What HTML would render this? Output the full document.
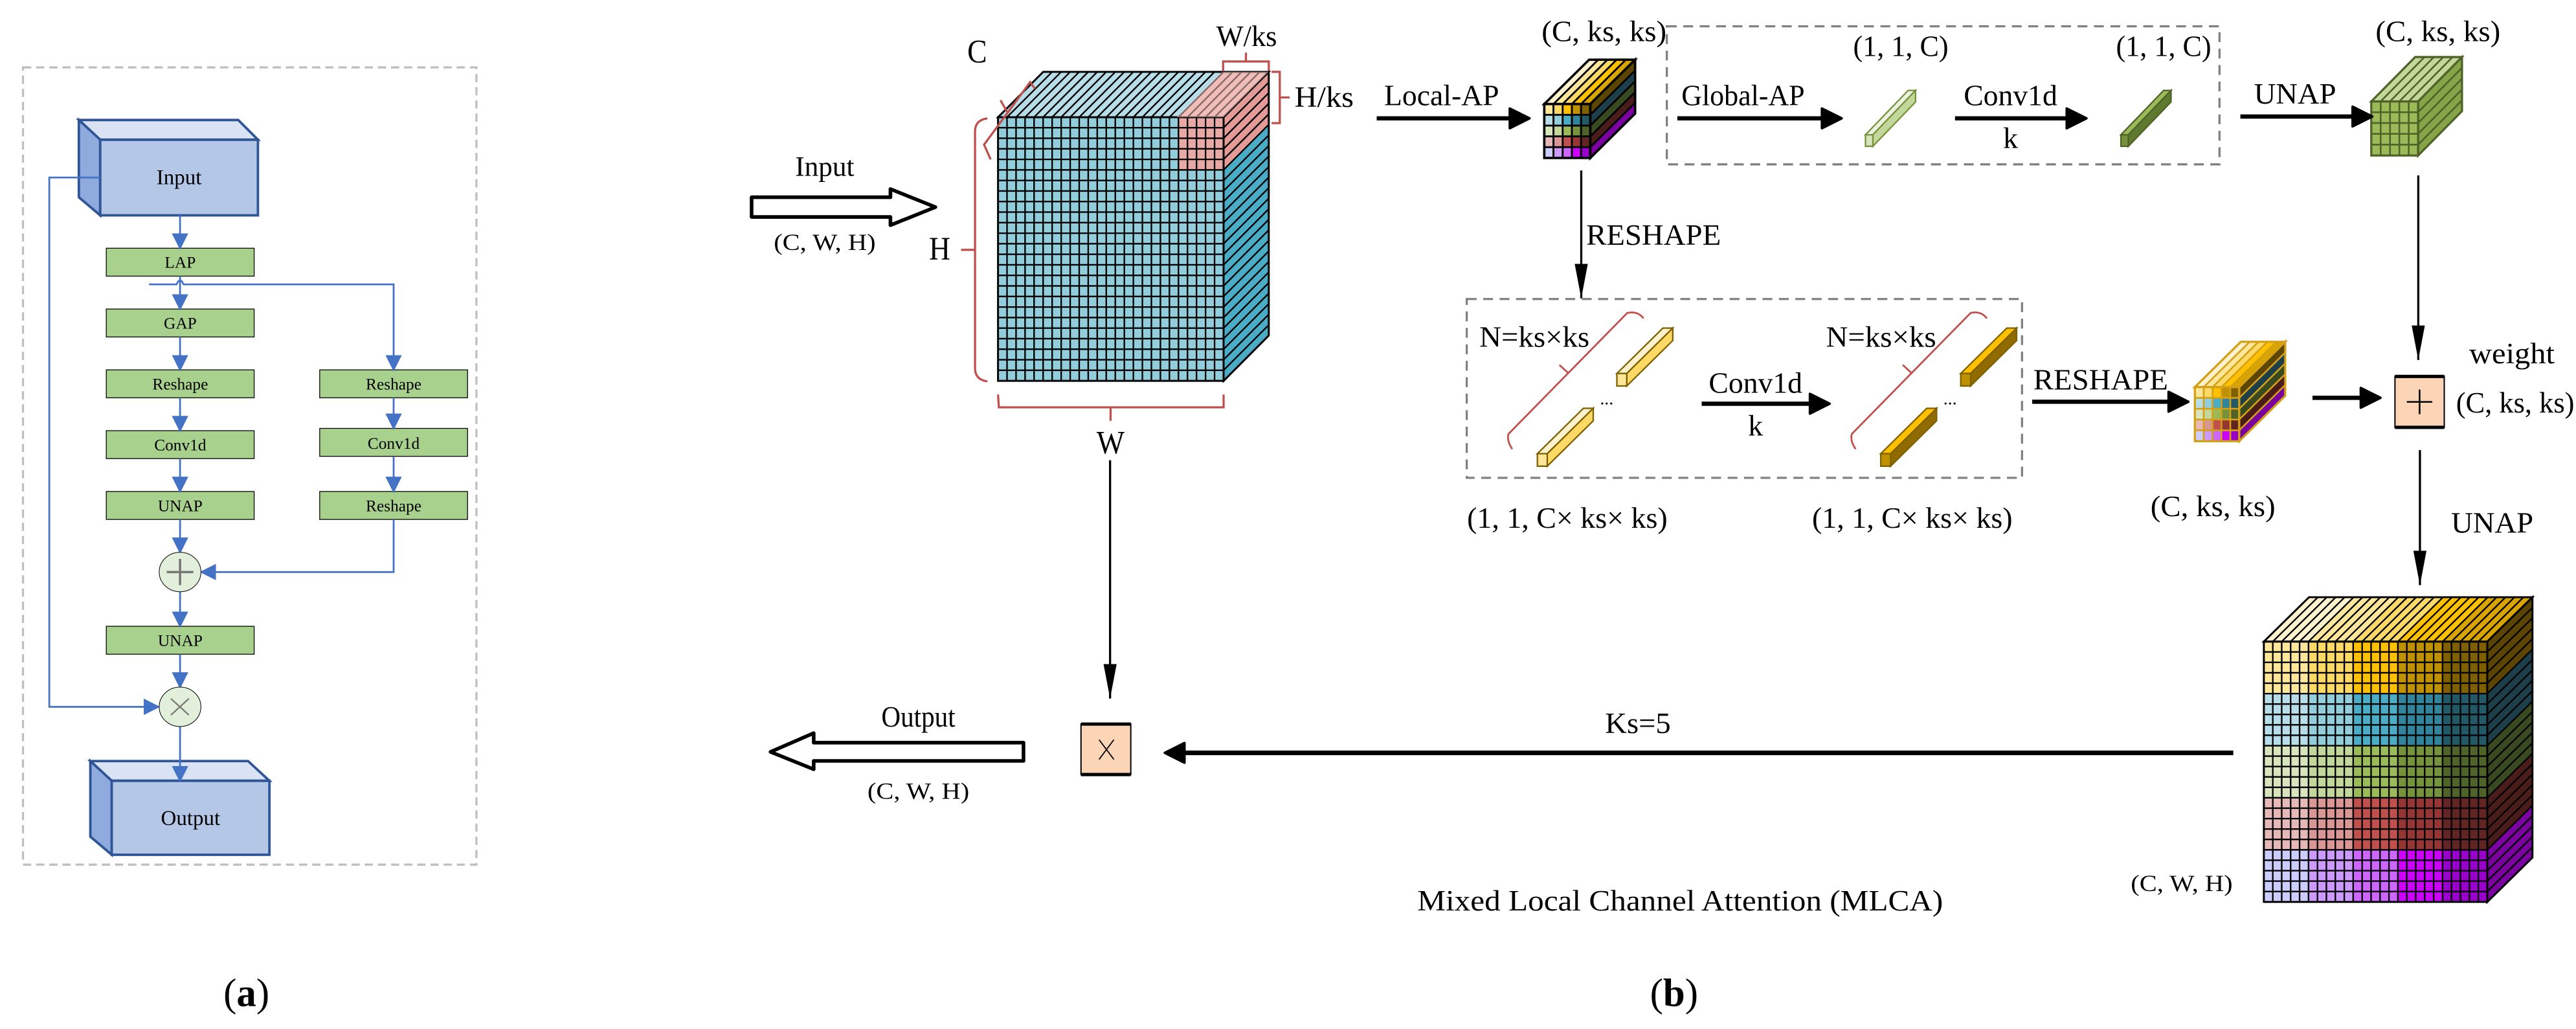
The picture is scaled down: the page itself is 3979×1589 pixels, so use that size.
<!DOCTYPE html>
<html><head><meta charset="utf-8">
<style>
html,body{margin:0;padding:0;background:#fff;}
svg{display:block;}
text{font-family:"Liberation Serif",serif;fill:#000;}
</style></head>
<body>
<svg id="s" xmlns="http://www.w3.org/2000/svg" width="3979" height="1589" viewBox="0 0 1568 626" preserveAspectRatio="none">
<defs>
<marker id="ab" markerWidth="10" markerHeight="10" refX="9" refY="5" orient="auto" markerUnits="userSpaceOnUse"><path d="M0,0 L10,5 L0,10 Z" fill="#4472c4"/></marker>
<marker id="ak" markerWidth="14" markerHeight="14" refX="12" refY="7" orient="auto" markerUnits="userSpaceOnUse"><path d="M1,1 L13,7 L1,13 Z" fill="#000" stroke="#000" stroke-linejoin="round" stroke-width="1.5"/></marker>
<marker id="av" markerWidth="22" markerHeight="8" refX="21" refY="4" orient="auto" markerUnits="userSpaceOnUse"><path d="M0,0 L21,4 L0,8 Z" fill="#000"/></marker>
</defs>

<!-- ============ Panel (a) ============ -->
<rect x="14" y="41" width="276" height="485" fill="none" stroke="#bfbfbf" stroke-width="1.3" stroke-dasharray="5,3"/>
<polygon points="48,73 145,73 157,85 61,85" fill="#dae3f3" stroke="#2f5597" stroke-width="1.5"/>
<polygon points="48,73 61,85 61,131 48,120" fill="#8faadc" stroke="#2f5597" stroke-width="1.5"/>
<rect x="61" y="85" width="96" height="46" fill="#b4c7e7" stroke="#2f5597" stroke-width="1.5"/>
<text x="109" y="112" font-size="13" text-anchor="middle">Input</text>
<polygon points="55,463 151,463 164,475 68,475" fill="#dae3f3" stroke="#2f5597" stroke-width="1.5"/>
<polygon points="55,463 68,475 68,520 55,509" fill="#8faadc" stroke="#2f5597" stroke-width="1.5"/>
<rect x="68" y="475" width="96" height="45" fill="#b4c7e7" stroke="#2f5597" stroke-width="1.5"/>
<text x="116" y="502" font-size="13" text-anchor="middle">Output</text>
<g fill="#a9d18e" stroke="#000" stroke-width="0.5">
<rect x="64.7" y="151" width="90" height="17"/>
<rect x="64.7" y="188" width="90" height="17"/>
<rect x="64.7" y="225" width="90" height="17"/>
<rect x="64.7" y="262" width="90" height="17"/>
<rect x="64.7" y="299" width="90" height="17"/>
<rect x="64.7" y="381" width="90" height="17"/>
<rect x="194.6" y="225" width="90" height="17"/>
<rect x="194.6" y="260.6" width="90" height="17"/>
<rect x="194.6" y="299" width="90" height="17"/>
</g>
<g font-size="10" text-anchor="middle">
<text x="109.7" y="163">LAP</text>
<text x="109.7" y="200">GAP</text>
<text x="109.7" y="237">Reshape</text>
<text x="109.7" y="274">Conv1d</text>
<text x="109.7" y="311">UNAP</text>
<text x="109.7" y="393">UNAP</text>
<text x="239.6" y="237">Reshape</text>
<text x="239.6" y="273">Conv1d</text>
<text x="239.6" y="311">Reshape</text>
</g>
<g stroke="#4472c4" stroke-width="1.1" fill="none">
<line x1="109.6" y1="131" x2="109.6" y2="151" marker-end="url(#ab)"/>
<line x1="109.6" y1="168" x2="109.6" y2="188" marker-end="url(#ab)"/>
<line x1="109.6" y1="205" x2="109.6" y2="225" marker-end="url(#ab)"/>
<line x1="109.6" y1="242" x2="109.6" y2="262" marker-end="url(#ab)"/>
<line x1="109.6" y1="279" x2="109.6" y2="299" marker-end="url(#ab)"/>
<line x1="109.6" y1="316" x2="109.6" y2="336" marker-end="url(#ab)"/>
<line x1="109.6" y1="360" x2="109.6" y2="381" marker-end="url(#ab)"/>
<line x1="109.6" y1="398" x2="109.6" y2="418" marker-end="url(#ab)"/>
<line x1="109.6" y1="442" x2="109.6" y2="475" marker-end="url(#ab)"/>
<path d="M90.7,173 L107.5,173 Q109.6,168 111.7,173 L239.6,173 L239.6,225" marker-end="url(#ab)"/>
<line x1="239.6" y1="242" x2="239.6" y2="260.6" marker-end="url(#ab)"/>
<line x1="239.6" y1="278" x2="239.6" y2="299" marker-end="url(#ab)"/>
<path d="M239.6,316 L239.6,348 L122.5,348" marker-end="url(#ab)"/>
<path d="M61,108 L30,108 L30,430 L96.5,430" marker-end="url(#ab)"/>
</g>
<ellipse cx="109.6" cy="348" rx="12.7" ry="12" fill="#e2efda" stroke="#000" stroke-width="0.4"/>
<path d="M101.5,348 H117.7 M109.6,340 V356" stroke="#777" stroke-width="1.4"/>
<ellipse cx="109.6" cy="430" rx="12.7" ry="12" fill="#e2efda" stroke="#000" stroke-width="0.4"/>
<path d="M104,425 L115,435 M115,425 L104,435" stroke="#777" stroke-width="0.9"/>
<text x="150" y="612" font-size="24" text-anchor="middle">(<tspan font-weight="bold">a</tspan>)</text>
<text x="1019" y="612" font-size="24" text-anchor="middle">(<tspan font-weight="bold">b</tspan>)</text>

<!-- ============ Panel (b) ============ -->
<g id="cubes"></g>

<polygon points="457.5,120 542,120 542,115 569.4,126 542,137 542,132 457.5,132" fill="#fff" stroke="#000" stroke-width="2.2" stroke-linejoin="round"/>
<text x="502" y="107" font-size="17" text-anchor="middle" textLength="36" lengthAdjust="spacingAndGlyphs">Input</text>
<text x="502" y="152" font-size="14" text-anchor="middle" textLength="62" lengthAdjust="spacingAndGlyphs">(C, W, H)</text>

<g stroke="#c0504d" stroke-width="1.3" fill="none">
<path d="M601,72 Q593.5,73 593.5,80 L593.5,224 Q593.5,231 601,232 M593.5,152 H585"/>
<path d="M603,97 L599,88 L627,50 L630,54 M613,68 L609,61"/>
<path d="M607.5,240 L608,247.8 L744.8,247.8 L744.8,240 M676,247.8 V256"/>
<path d="M744.5,43 V37.4 H772.3 V43 M758.4,37.4 V32"/>
<path d="M774,43.7 H779 V74.9 H774 M779,59.3 H785"/>
</g>
<text x="594.8" y="38" font-size="20" text-anchor="middle" textLength="12" lengthAdjust="spacingAndGlyphs">C</text>
<text x="572" y="158" font-size="20" text-anchor="middle" textLength="13" lengthAdjust="spacingAndGlyphs">H</text>
<text x="676" y="276" font-size="20" text-anchor="middle" textLength="17" lengthAdjust="spacingAndGlyphs">W</text>
<text x="758.8" y="28" font-size="18" text-anchor="middle" textLength="37" lengthAdjust="spacingAndGlyphs">W/ks</text>
<text x="806" y="65" font-size="18" text-anchor="middle" textLength="36" lengthAdjust="spacingAndGlyphs">H/ks</text>

<g font-size="18" text-anchor="middle" lengthAdjust="spacingAndGlyphs">
<text x="877.5" y="64" textLength="70" lengthAdjust="spacingAndGlyphs">Local-AP</text>
<text x="976.4" y="25" textLength="76" lengthAdjust="spacingAndGlyphs">(C, ks, ks)</text>
<text x="1061" y="64" textLength="75" lengthAdjust="spacingAndGlyphs">Global-AP</text>
<text x="1157" y="34" textLength="58" lengthAdjust="spacingAndGlyphs">(1, 1, C)</text>
<text x="1223.8" y="64" textLength="57" lengthAdjust="spacingAndGlyphs">Conv1d</text>
<text x="1223.8" y="90">k</text>
<text x="1317" y="34" textLength="58" lengthAdjust="spacingAndGlyphs">(1, 1, C)</text>
<text x="1397" y="63" textLength="50" lengthAdjust="spacingAndGlyphs">UNAP</text>
<text x="1484" y="25" textLength="76" lengthAdjust="spacingAndGlyphs">(C, ks, ks)</text>
<text x="1006.5" y="149" textLength="82" lengthAdjust="spacingAndGlyphs">RESHAPE</text>
<text x="934" y="211" textLength="67" lengthAdjust="spacingAndGlyphs">N=ks×ks</text>
<text x="1145" y="211" textLength="67" lengthAdjust="spacingAndGlyphs">N=ks×ks</text>
<text x="1068.6" y="239" textLength="57" lengthAdjust="spacingAndGlyphs">Conv1d</text>
<text x="1068.6" y="265">k</text>
<text x="954" y="321" textLength="122" lengthAdjust="spacingAndGlyphs">(1, 1, C× ks× ks)</text>
<text x="1164" y="321" textLength="122" lengthAdjust="spacingAndGlyphs">(1, 1, C× ks× ks)</text>
<text x="1278.7" y="237" textLength="82" lengthAdjust="spacingAndGlyphs">RESHAPE</text>
<text x="1347" y="314" textLength="76" lengthAdjust="spacingAndGlyphs">(C, ks, ks)</text>
<text x="1529" y="221" textLength="52" lengthAdjust="spacingAndGlyphs">weight</text>
<text x="1531" y="251" textLength="72" lengthAdjust="spacingAndGlyphs">(C, ks, ks)</text>
<text x="1517" y="324" textLength="50" lengthAdjust="spacingAndGlyphs">UNAP</text>
<text x="997" y="446" textLength="40" lengthAdjust="spacingAndGlyphs">Ks=5</text>
<text x="1022.7" y="554" textLength="320" lengthAdjust="spacingAndGlyphs">Mixed Local Channel Attention (MLCA)</text>
<text x="559" y="442" textLength="45" lengthAdjust="spacingAndGlyphs">Output</text>
</g>
<text x="1328" y="542" font-size="14" text-anchor="middle" textLength="62" lengthAdjust="spacingAndGlyphs">(C, W, H)</text>
<text x="559" y="486" font-size="14" text-anchor="middle" textLength="62" lengthAdjust="spacingAndGlyphs">(C, W, H)</text>

<line x1="838" y1="72" x2="930" y2="72" stroke="#000" stroke-width="2.6" marker-end="url(#ak)"/>
<rect x="1014.6" y="16" width="336.4" height="84" fill="none" stroke="#808080" stroke-width="1.3" stroke-dasharray="6,4"/>
<line x1="1021" y1="72" x2="1120" y2="72" stroke="#000" stroke-width="2.6" marker-end="url(#ak)"/>
<line x1="1190" y1="72" x2="1269" y2="72" stroke="#000" stroke-width="2.6" marker-end="url(#ak)"/>
<line x1="1363.7" y1="70.9" x2="1443" y2="70.9" stroke="#000" stroke-width="2.6" marker-end="url(#ak)"/>
<line x1="1472" y1="106.7" x2="1472" y2="219" stroke="#000" stroke-width="1.3" marker-end="url(#av)"/>
<line x1="962.5" y1="103.7" x2="962.5" y2="181.5" stroke="#000" stroke-width="1.3" marker-end="url(#av)"/>

<rect x="892.8" y="181.9" width="338" height="108.8" fill="none" stroke="#808080" stroke-width="1.3" stroke-dasharray="6,4"/>
<g stroke="#c0504d" stroke-width="1.1" fill="none">
<path d="M1000.4,193.7 Q997,189 990.5,190.4 L918.2,264 Q917,268 920.5,273.2 M954.2,226.6 L949.2,222"/>
<path d="M1209.4,193.7 Q1206,189 1199.5,190.4 L1127.2,264 Q1126,268 1129.5,273.2 M1163.2,226.6 L1158.2,222"/>
</g>
<text x="978" y="246" font-size="11" text-anchor="middle">...</text>
<text x="1187" y="246" font-size="11" text-anchor="middle">...</text>
<line x1="1035.8" y1="245.6" x2="1112.7" y2="245.6" stroke="#000" stroke-width="2.6" marker-end="url(#ak)"/>
<line x1="1237" y1="244.4" x2="1331" y2="244.4" stroke="#000" stroke-width="2.6" marker-end="url(#ak)"/>
<line x1="1407.6" y1="242" x2="1448" y2="242" stroke="#000" stroke-width="2.6" marker-end="url(#ak)"/>

<rect x="1457.8" y="229" width="30" height="31" fill="#fbd5b5" stroke="#000" stroke-width="0.8"/>
<path d="M1457.8,229 H1487.8 M1457.8,260 H1487.8" stroke="#000" stroke-width="2"/>
<path d="M1465,244.5 H1480.5 M1472.8,237 V252" stroke="#000" stroke-width="1"/>

<line x1="1473" y1="273.8" x2="1473" y2="356" stroke="#000" stroke-width="1.3" marker-end="url(#av)"/>

<line x1="1359.4" y1="458" x2="710" y2="458" stroke="#000" stroke-width="2.8" marker-end="url(#ak)"/>

<line x1="675.7" y1="280" x2="675.7" y2="425" stroke="#000" stroke-width="1.3" marker-end="url(#av)"/>
<rect x="658" y="440.5" width="30.3" height="30.7" fill="#fbd5b5" stroke="#000" stroke-width="0.8"/>
<path d="M658,440.5 H688.3 M658,471.2 H688.3" stroke="#000" stroke-width="2"/>
<path d="M669,450 L678,462 M678,450 L669,462" stroke="#000" stroke-width="0.7"/>

<polygon points="623,451.8 495.3,451.8 495.3,446 469,457.4 495.3,468 495.3,462.9 623,462.9" fill="#fff" stroke="#000" stroke-width="2.2" stroke-linejoin="round"/>
</svg>

<script>
(function(){
var NS="http://www.w3.org/2000/svg";
var g=document.getElementById("cubes");
function el(t,a){var e=document.createElementNS(NS,t);for(var k in a)e.setAttribute(k,a[k]);g.appendChild(e);return e;}
function poly(p,f,s,w){el("polygon",{points:p.map(function(q){return q[0].toFixed(2)+","+q[1].toFixed(2)}).join(" "),fill:f,stroke:s,"stroke-width":w,"stroke-linejoin":"miter"});}
function cube(x0,y0,x1,y1,cols,rows,dx,dy,fc,tc,rc,s,w){
  var cw=(x1-x0)/cols, rh=(y1-y0)/rows;
  for(var c=0;c<cols;c++){var a=x0+c*cw;poly([[a,y0],[a+cw,y0],[a+cw+dx,y0+dy],[a+dx,y0+dy]],tc(c),s,w);}
  for(var r=0;r<rows;r++){var b=y0+r*rh;poly([[x1,b],[x1+dx,b+dy],[x1+dx,b+rh+dy],[x1,b+rh]],rc(r),s,w);}
  el("rect",{x:x0,y:y0,width:x1-x0,height:y1-y0,fill:s});
  for(var r=0;r<rows;r++)for(var c=0;c<cols;c++){
    el("rect",{x:x0+c*cw,y:y0+r*rh,width:cw,height:rh,fill:fc(r,c),stroke:s,"stroke-width":w});
  }
  poly([[x0,y0],[x1,y0],[x1+dx,y0+dy],[x0+dx,y0+dy]],"none",s,w*1.3);
  poly([[x1,y0],[x1+dx,y0+dy],[x1+dx,y1+dy],[x1,y1]],"none",s,w*1.3);
  el("rect",{x:x0,y:y0,width:x1-x0,height:y1-y0,fill:"none",stroke:s,"stroke-width":w*1.3});
}
var P=[["#ffe699","#ffd966","#ffc000","#bf9000","#7f6000"],
       ["#b7dee8","#92cddc","#4bacc6","#31849b","#215967"],
       ["#d8e4bc","#c4d79b","#9bbb59","#76933c","#4f6228"],
       ["#e6b8b7","#da9694","#c0504d","#963634","#632523"],
       ["#ccccff","#cc99ff","#cc66ff","#cc00ff","#9900cc"]];
var D=["#5c4500","#1c3f4a","#3a4a20","#4a1c1a","#7a00a0"];
var T=["#fff2cc","#ffe699","#ffd966","#ffc000","#d9a400"];
cube(607.5,71.3,744.8,231.7,25,25,27.5,-27.6,
  function(r,c){return (r<5&&c>=20)?"#e8a8a4":"#92cddc";},
  function(c){return c>=20?"#efbcb9":"#b7dee8";},
  function(r){return r<5?"#e49a96":"#4bacc6";},"#000",0.9);
poly([[716.3,71.3],[744.8,71.3],[772.3,43.7],[744,43.7]],"rgba(240,190,186,0.55)","none",0);
cube(940,63.3,968,96.1,5,5,27.3,-27,function(r,c){return P[r][c];},function(c){return T[c];},function(r){return D[r];},"#000",1.1);
cube(1443.4,61.7,1471.9,94.6,5,5,26.7,-27,function(){return "#9bbb59";},function(){return "#c4d79b";},function(){return "#86a548";},"#4f6228",1);
cube(1336,235.5,1363,268.4,5,5,28,-27.6,function(r,c){return P[r][c];},function(c){return T[c];},function(r){return D[r];},"#d4a017",1);
cube(1378,390.3,1514,548.7,25,25,27.5,-27,function(r,c){return P[Math.floor(r/5)][Math.floor(c/5)];},function(c){return T[Math.floor(c/5)];},function(r){return D[Math.floor(r/5)];},"#000",0.9);
function bar(x,y,w,h,dx,dy,f,t,rr,s){
  poly([[x,y],[x+w,y],[x+w+dx,y+dy],[x+dx,y+dy]],t,s,0.9);
  poly([[x+w,y],[x+w+dx,y+dy],[x+w+dx,y+h+dy],[x+w,y+h]],rr,s,0.9);
  el("rect",{x:x,y:y,width:w,height:h,fill:f,stroke:s,"stroke-width":0.9});
}
bar(1135.5,82,4.5,7,26,-27,"#d8e4bc","#ebf1de","#c4d79b","#76933c");
bar(1291,82,4.5,7,26,-27,"#76933c","#9bbb59","#5e7a2e","#4f6228");
bar(984.2,227.2,6,7.6,28,-27.6,"#ffe699","#fff2cc","#ffd966","#7f6000");
bar(935.8,276,6,7.6,28,-27.6,"#ffe699","#fff2cc","#ffd966","#7f6000");
bar(1193.5,227.2,6,7.6,28,-27.6,"#bf9000","#ffc000","#8f6b00","#7f6000");
bar(1144.8,276,6,7.6,28,-27.6,"#bf9000","#ffc000","#8f6b00","#7f6000");
})();
</script>
</body></html>
